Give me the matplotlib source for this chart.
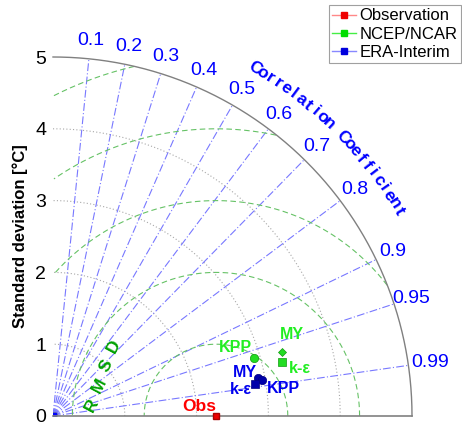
import numpy as np
import matplotlib
matplotlib.use("Agg")
import matplotlib.pyplot as plt
from matplotlib.lines import Line2D

plt.rcParams['font.family'] = ['Liberation Sans', 'DejaVu Sans']

# ---------------- data ----------------
ref_std = 2.27
ncep_names = ["KPP", "MY", "k-ε"]
ncep_std = [2.918, 3.317, 3.281]
ncep_corr = [0.9613, 0.9628, 0.9731]
era_names = ["MY", "KPP", "k-ε"]
era_std = [2.908, 2.958, 2.848]
era_corr = [0.9835, 0.9855, 0.9879]
corr_ticks = [0.1, 0.2, 0.3, 0.4, 0.5, 0.6, 0.7, 0.8, 0.9, 0.95, 0.99]
std_ticks = [0, 1, 2, 3, 4, 5]
rmsd_levels = [1, 2, 3, 4, 5]
legend_labels = ["Observation", "NCEP/NCAR", "ERA-Interim"]

RMAX = 5.0
W, H = 462, 426
fig = plt.figure(figsize=(W / 100, H / 100), dpi=100)
ox, oy, scale = 53, 416, 71.8
ax = fig.add_axes([ox / W, (H - oy) / H, RMAX * scale / W, RMAX * scale / H])
ax.set_xlim(0, RMAX)
ax.set_ylim(0, RMAX)
for s in ax.spines.values():
    s.set_visible(False)

# std arcs
th = np.linspace(0, np.pi / 2, 300)
for r in std_ticks[1:-1]:
    ax.plot(r * np.cos(th), r * np.sin(th), color='#a8a8a8', lw=0.8,
            ls=(0, (1, 2)), zorder=1)
ax.plot(RMAX * np.cos(th), RMAX * np.sin(th), color='#808080', lw=1.0, zorder=3, clip_on=False)
ax.plot([0, RMAX], [0, 0], color='#808080', lw=1.2, zorder=3, clip_on=False)

# correlation lines
for c in corr_ticks:
    a = np.arccos(c)
    ax.plot([0, RMAX * np.cos(a)], [0, RMAX * np.sin(a)], color='#7878ff', lw=0.8,
            ls=(0, (7, 2, 1, 2)), zorder=1)
    rr = 5.3 if c > 0.98 else 5.25
    ax.text(rr * np.cos(a), rr * np.sin(a), f"{c:g}", color='#0000ff', fontsize=14,
            ha='center', va='center', clip_on=False)

# RMSD contours
t = np.linspace(0, np.pi, 800)
for rm in rmsd_levels:
    x = ref_std + rm * np.cos(t)
    y = rm * np.sin(t)
    m = (x >= 0) & (x ** 2 + y ** 2 <= RMAX ** 2)
    x = np.where(m, x, np.nan)
    y = np.where(m, y, np.nan)
    ax.plot(x, y, color='#66c266', lw=0.8, ls=(0, (5, 3)), zorder=1)

# legend dummies at origin
ax.plot([0], [0], 's', color='#dd0000', ms=5)
ax.plot([0], [0], 's', color='#00cc00', ms=5)
ax.plot([0], [0], 's', color='#0000ff', ms=5)

# observation
ax.plot([ref_std], [0], 's', color='#ee0000', mec='#aa0000', ms=5, zorder=6, clip_on=False)
ax.annotate("Obs", (ref_std, 0), xytext=(-12, 6.5), textcoords='offset points',
            color='#ff0000', fontsize=12.5, fontweight='bold', ha='center', va='center')

# NCEP
ncep_mk = ['o', 'D', 's']
ncep_ms = [6, 4, 5.5]
ncep_off = [(-14, 7.5), (7, 12), (13, -5)]
for n, s, c, mk, ms, off in zip(ncep_names, ncep_std, ncep_corr, ncep_mk, ncep_ms, ncep_off):
    a = np.arccos(c)
    ax.plot([s * np.cos(a)], [s * np.sin(a)], mk, color='#22dd22', mec='#119911',
            mew=0.5, ms=ms, zorder=5)
    ax.annotate(n, (s * np.cos(a), s * np.sin(a)), xytext=off, textcoords='offset points',
                color='#22ee22', fontsize=11.5, fontweight='bold', ha='center', va='center')

# ERA
era_mk = ['o', 'o', 's']
era_ms = [6, 6, 5.5]
era_off = [(-10, 4), (15, -6), (-10, -4)]
for n, s, c, mk, ms, off in zip(era_names, era_std, era_corr, era_mk, era_ms, era_off):
    a = np.arccos(c)
    ax.plot([s * np.cos(a)], [s * np.sin(a)], mk, color='#0000aa', mec='#000080',
            mew=0.5, ms=ms, zorder=5)
    ax.annotate(n, (s * np.cos(a), s * np.sin(a)), xytext=off, textcoords='offset points',
                color='#0000ee', fontsize=11.5, fontweight='bold', ha='center', va='center')

# axes ticks
ax.set_xticks([])
ax.set_yticks(std_ticks)
ax.set_yticklabels([str(v) for v in std_ticks], fontsize=14)
ax.tick_params(axis='y', length=0, pad=5)
ax.set_ylabel("Standard deviation [°C]", fontsize=12, fontweight='bold', labelpad=5)

# Correlation Coefficient curved label
label = "Correlation Coefficient"
start, step = 59.9, 1.33
for i, ch in enumerate(label):
    if ch == ' ':
        continue
    ang = np.deg2rad(start - i * step)
    ax.text(5.6 * np.cos(ang), 5.6 * np.sin(ang), ch, color='#0000ff', fontsize=12.5,
            fontweight='bold', rotation=np.rad2deg(ang) - 90, rotation_mode='anchor',
            ha='center', va='center', clip_on=False)

# RMSD label
p0 = np.array([0.54, 0.153])
p1 = np.array([0.85, 0.975])
for i, ch in enumerate("RMSD"):
    p = p0 + (p1 - p0) * i / 3
    ax.text(p[0], p[1], ch, color='#00a000', fontsize=12.5, fontweight='bold',
            rotation=62, ha='center', va='center')

# legend
handles = [
    Line2D([], [], color='#ff8888', lw=1, marker='s', mfc='#ee0000', mec='#ee0000', ms=4),
    Line2D([], [], color='#44ee44', lw=1, marker='s', mfc='#00dd00', mec='#00dd00', ms=4),
    Line2D([], [], color='#8888ff', lw=1, marker='s', mfc='#0000dd', mec='#0000dd', ms=4),
]
leg = fig.legend(handles, legend_labels, loc='upper right', bbox_to_anchor=(461 / W, 1 - 5 / H),
                 fontsize=12, frameon=True, fancybox=False, edgecolor='#888888',
                 handlelength=1.4, handletextpad=0.25, borderpad=0.2, labelspacing=0.2,
                 borderaxespad=0)
leg.get_frame().set_linewidth(0.8)

fig.savefig("out.png", dpi=100)
